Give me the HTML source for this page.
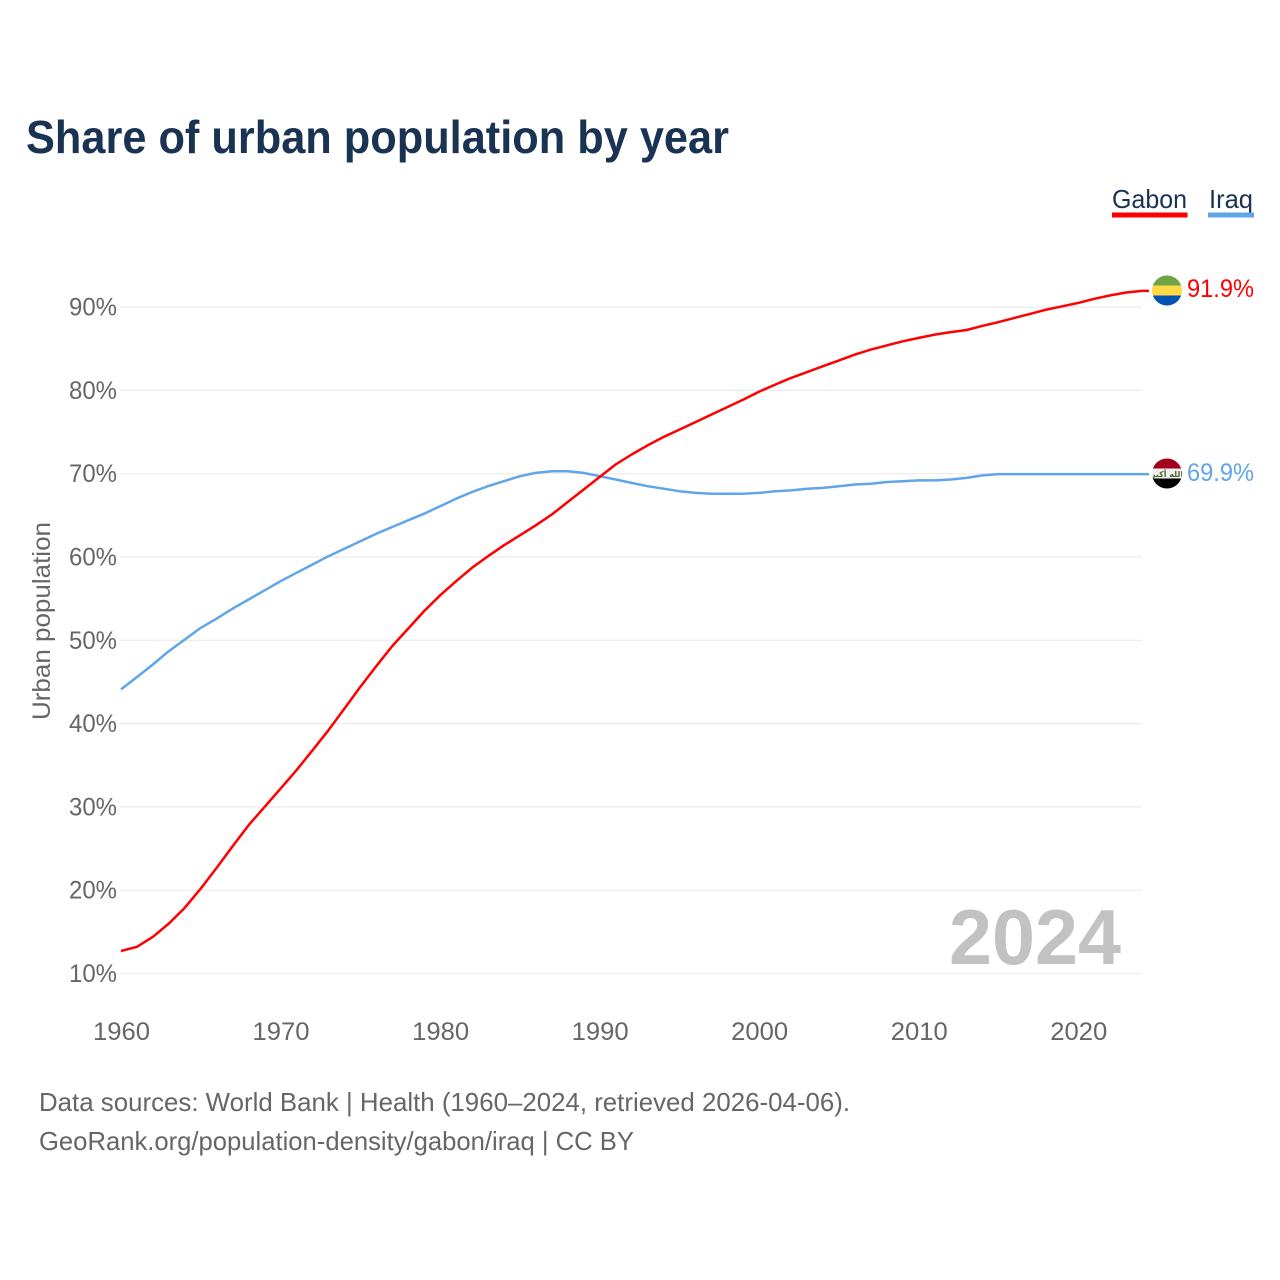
<!DOCTYPE html>
<html lang="en">
<head>
<meta charset="utf-8">
<title>Share of urban population by year</title>
<style>
html,body{margin:0;padding:0;background:#fff;width:1280px;height:1280px;overflow:hidden}
svg{display:block}
text{font-family:"Liberation Sans",sans-serif}
</style>
</head>
<body>
<svg id="chart" xmlns="http://www.w3.org/2000/svg" width="1280" height="1280" viewBox="0 0 1280 1280">
  <defs>
    <clipPath id="flag-clip-gabon"><circle cx="1167" cy="290.5" r="15"/></clipPath>
    <clipPath id="flag-clip-iraq"><circle cx="1167" cy="473.5" r="15"/></clipPath>
  </defs>
  <text x="26" y="153" font-size="46" font-weight="700" fill="#1a3353" textLength="703" lengthAdjust="spacingAndGlyphs">Share of urban population by year</text>

  <g id="grid"></g>
  <g id="y-ticks"></g>
  <g id="x-ticks"></g>
  <text transform="translate(50,621) rotate(-90)" text-anchor="middle" font-size="25" fill="#666" textLength="198" lengthAdjust="spacingAndGlyphs">Urban population</text>

  <text x="949" y="964" font-size="78" font-weight="700" fill="#c2c2c2" textLength="172" lengthAdjust="spacingAndGlyphs">2024</text>

  <path id="line-iraq" fill="none" stroke="#60a5ea" stroke-width="2.5" stroke-linejoin="round"></path>
  <path id="line-gabon" fill="none" stroke="#ff0000" stroke-width="2.5" stroke-linejoin="round"></path>

  <g clip-path="url(#flag-clip-gabon)">
    <rect x="1152" y="275" width="30" height="10.5" fill="#6da544"/>
    <rect x="1152" y="285.5" width="30" height="10" fill="#ffda44"/>
    <rect x="1152" y="295.5" width="30" height="11" fill="#0052b4"/>
  </g>
  <g clip-path="url(#flag-clip-iraq)">
    <rect x="1152" y="458" width="30" height="10.5" fill="#a2001d"/>
    <rect x="1152" y="468.5" width="30" height="10" fill="#f0f0f0"/>
    <rect x="1152" y="478.5" width="30" height="11" fill="#000"/>
    <text x="1167" y="477" text-anchor="middle" font-size="8" font-weight="700" fill="#496e2d" style="font-family:'DejaVu Sans',sans-serif">الله أكبر</text>
  </g>

  <text id="value-gabon" x="1187" y="297" font-size="25" fill="#ff0000" textLength="67" lengthAdjust="spacingAndGlyphs">91.9%</text>
  <text id="value-iraq" x="1187" y="481" font-size="25" fill="#60a5ea" textLength="67" lengthAdjust="spacingAndGlyphs">69.9%</text>

  <g>
    <g>
      <text x="1112" y="208" font-size="26" fill="#1a3353" textLength="75" lengthAdjust="spacingAndGlyphs">Gabon</text>
      <rect x="1112" y="212.5" width="75.5" height="5" fill="#ff0000"/>
    </g>
    <g>
      <text x="1209" y="208" font-size="26" fill="#1a3353" textLength="44" lengthAdjust="spacingAndGlyphs">Iraq</text>
      <rect x="1208" y="212.5" width="46" height="5" fill="#60a5ea"/>
    </g>
  </g>

  <text x="39" y="1111" font-size="26" fill="#666" textLength="811" lengthAdjust="spacingAndGlyphs">Data sources: World Bank | Health (1960–2024, retrieved 2026-04-06).</text>
  <text x="39" y="1150" font-size="26" fill="#666" textLength="595" lengthAdjust="spacingAndGlyphs">GeoRank.org/population-density/gabon/iraq | CC BY</text>
</svg>
<script>
const startYear = 1960;
const xTickYears = [1960, 1970, 1980, 1990, 2000, 2010, 2020];
const yTickValues = [10, 20, 30, 40, 50, 60, 70, 80, 90];
const gabonValues = [12.7,13.2,14.4,16.0,17.9,20.2,22.7,25.3,27.8,30.0,
  32.2,34.4,36.8,39.2,41.8,44.4,46.9,49.3,51.4,53.5,
  55.4,57.1,58.7,60.1,61.4,62.6,63.8,65.1,66.6,68.1,
  69.6,71.1,72.3,73.4,74.4,75.3,76.2,77.1,78.0,78.9,
  79.85,80.7,81.5,82.2,82.9,83.6,84.3,84.9,85.4,85.9,
  86.3,86.7,87.0,87.25,87.75,88.2,88.7,89.2,89.7,90.1,
  90.5,91.0,91.4,91.75,91.95];
const iraqValues = [44.1,45.6,47.1,48.7,50.1,51.5,52.6,53.8,54.9,56.0,
  57.1,58.1,59.1,60.1,61.0,61.9,62.8,63.6,64.4,65.2,
  66.1,67.0,67.8,68.5,69.1,69.7,70.1,70.3,70.3,70.1,
  69.7,69.3,68.9,68.5,68.2,67.9,67.7,67.6,67.6,67.6,
  67.7,67.9,68.0,68.2,68.3,68.5,68.7,68.8,69.0,69.1,
  69.2,69.2,69.3,69.5,69.8,69.95,69.95,69.95,69.95,69.95,
  69.95,69.95,69.95,69.95,69.95];

const SVG_NS = 'http://www.w3.org/2000/svg';
const xOf = function (year) { return 121 + (year - 1960) * 15.955; };
const yOf = function (value) { return 973.5 - (value - 10) * 8.33; };

const gridGroup = document.getElementById('grid');
const yTickGroup = document.getElementById('y-ticks');
const xTickGroup = document.getElementById('x-ticks');

yTickValues.forEach(function (value) {
  const line = document.createElementNS(SVG_NS, 'line');
  
  
  line.setAttribute('x1', 120);
  line.setAttribute('x2', 1142);
  line.setAttribute('y1', yOf(value));
  line.setAttribute('y2', yOf(value));
  line.setAttribute('stroke', '#ebebeb');
  line.setAttribute('stroke-width', 1.2);
  gridGroup.appendChild(line);

  const label = document.createElementNS(SVG_NS, 'text');
  
  
  label.setAttribute('x', 69);
  label.setAttribute('y', yOf(value) + 8.5);
  label.setAttribute('font-size', 25);
  label.setAttribute('fill', '#666');
  label.setAttribute('textLength', 48);
  label.setAttribute('lengthAdjust', 'spacingAndGlyphs');
  label.textContent = value + '%';
  yTickGroup.appendChild(label);
});

xTickYears.forEach(function (year) {
  const label = document.createElementNS(SVG_NS, 'text');
  
  
  label.setAttribute('x', xOf(year) - 28);
  label.setAttribute('y', 1040);
  label.setAttribute('font-size', 25);
  label.setAttribute('fill', '#666');
  label.setAttribute('textLength', 57);
  label.setAttribute('lengthAdjust', 'spacingAndGlyphs');
  label.textContent = year;
  xTickGroup.appendChild(label);
});

const buildPath = function (values) {
  const points = values.map(function (value, index) {
    return xOf(startYear + index).toFixed(1) + ' ' + yOf(value).toFixed(1);
  });
  const lastY = yOf(values[values.length - 1]).toFixed(1);
  return 'M' + points.join('L') + 'L1149 ' + lastY;
};

document.getElementById('line-gabon').setAttribute('d', buildPath(gabonValues));
document.getElementById('line-iraq').setAttribute('d', buildPath(iraqValues));
</script>
</body>
</html>
